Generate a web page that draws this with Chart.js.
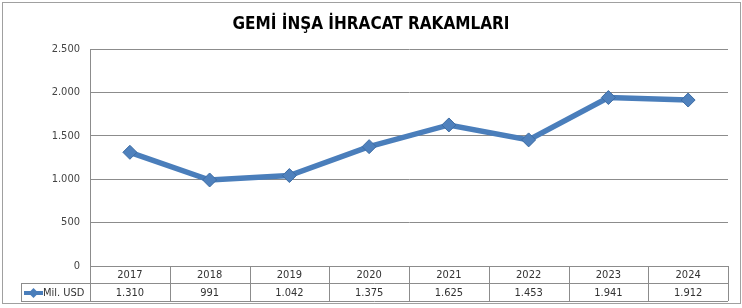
<!DOCTYPE html>
<html>
<head>
<meta charset="utf-8">
<script src="https://cdn.jsdelivr.net/npm/chart.js@4/dist/chart.umd.min.js"></script>
<style>
  html, body { margin: 0; padding: 0; background: #fff; }
  #wrap { width: 742px; height: 308px; }
</style>
</head>
<body>
<div id="wrap"><canvas id="grafik" width="742" height="308"></canvas></div>
<script>
// veriler
const yillar = ['2017', '2018', '2019', '2020', '2021', '2022', '2023', '2024'];
const ihracat = [1310, 991, 1042, 1375, 1625, 1453, 1941, 1912];
const seriAdi = 'Mil. USD';
const baslik = 'GEMİ İNŞA İHRACAT RAKAMLARI';

const yaziTipi = "'DejaVu Sans Condensed', 'Liberation Sans Narrow', sans-serif";
const mavi = '#4a7ebb';
const gri = '#8c8c8c';

// sayi bicimi: 1.310
const bicim = (v) => v.toLocaleString('tr-TR');

// baslik, cerceve ve veri tablosu
const tabloEklentisi = {
  id: 'tablo',
  afterDraw(chart) {
    const ctx = chart.ctx;
    const area = chart.chartArea;
    const x = chart.scales.x;
    const ust = area.bottom;
    const orta = ust + 17;
    const alt = ust + 35;
    const sol = 21;

    ctx.save();
    // dis cerceve
    ctx.strokeStyle = '#a0a0a0';
    ctx.lineWidth = 1;
    ctx.strokeRect(2.5, 2.5, 738, 301);

    // baslik
    ctx.fillStyle = '#000';
    ctx.font = "bold 17px " + yaziTipi;
    ctx.textAlign = 'center';
    ctx.textBaseline = 'middle';
    ctx.fillText(baslik, 371, 25);

    // tablo cizgileri
    ctx.strokeStyle = gri;
    ctx.beginPath();
    ctx.moveTo(area.left, ust + 0.5); ctx.lineTo(area.right, ust + 0.5);
    ctx.moveTo(sol, orta + 0.5); ctx.lineTo(area.right, orta + 0.5);
    ctx.moveTo(sol, alt + 0.5); ctx.lineTo(area.right, alt + 0.5);
    ctx.moveTo(sol + 0.5, orta); ctx.lineTo(sol + 0.5, alt);
    const w = (area.right - area.left) / yillar.length;
    for (let i = 0; i <= yillar.length; i++) {
      const xx = Math.round(area.left + i * w) + 0.5;
      ctx.moveTo(xx, ust); ctx.lineTo(xx, alt);
    }
    ctx.stroke();

    // tablo yazilari
    ctx.fillStyle = '#333';
    ctx.font = "11px " + yaziTipi;
    yillar.forEach((y, i) => {
      const cx = x.getPixelForValue(i);
      ctx.fillText(y, cx, (ust + orta) / 2 + 1);
      ctx.fillText(bicim(ihracat[i]), cx, (orta + alt) / 2 + 1);
    });

    // gosterge
    const ly = (orta + alt) / 2 + 1;
    ctx.strokeStyle = mavi;
    ctx.lineWidth = 4;
    ctx.beginPath();
    ctx.moveTo(sol + 3, ly); ctx.lineTo(sol + 22, ly);
    ctx.stroke();
    ctx.fillStyle = mavi;
    ctx.beginPath();
    ctx.moveTo(sol + 12.5, ly - 5); ctx.lineTo(sol + 17.5, ly);
    ctx.lineTo(sol + 12.5, ly + 5); ctx.lineTo(sol + 7.5, ly);
    ctx.closePath(); ctx.fill();
    ctx.fillStyle = '#333';
    ctx.textAlign = 'left';
    ctx.fillText(seriAdi, sol + 22, ly);
    ctx.restore();
  }
};

new Chart(document.getElementById('grafik'), {
  type: 'line',
  data: {
    labels: yillar,
    datasets: [{
      label: seriAdi,
      data: ihracat,
      borderColor: mavi,
      borderWidth: 5.5,
      pointStyle: 'rectRot',
      pointRadius: 7,
      pointBackgroundColor: '#4f81bd',
      pointBorderColor: '#3d6ca3',
      pointBorderWidth: 1,
      tension: 0
    }]
  },
  options: {
    responsive: false,
    animation: false,
    layout: { padding: { top: 49, right: 14, bottom: 42, left: 0 } },
    plugins: {
      legend: { display: false },
      title: { display: false },
      tooltip: { enabled: false }
    },
    scales: {
      x: {
        display: false,
        offset: true
      },
      y: {
        min: 0,
        max: 2500,
        afterFit(s) { s.width = 90; },
        ticks: {
          stepSize: 500,
          color: '#444',
          padding: 10,
          font: { family: yaziTipi, size: 11 },
          callback: (v) => bicim(v)
        },
        grid: {
          color: gri,
          lineWidth: 1,
          drawTicks: false
        },
        border: { color: gri, width: 1 }
      }
    }
  },
  plugins: [tabloEklentisi]
});
</script>
</body>
</html>
